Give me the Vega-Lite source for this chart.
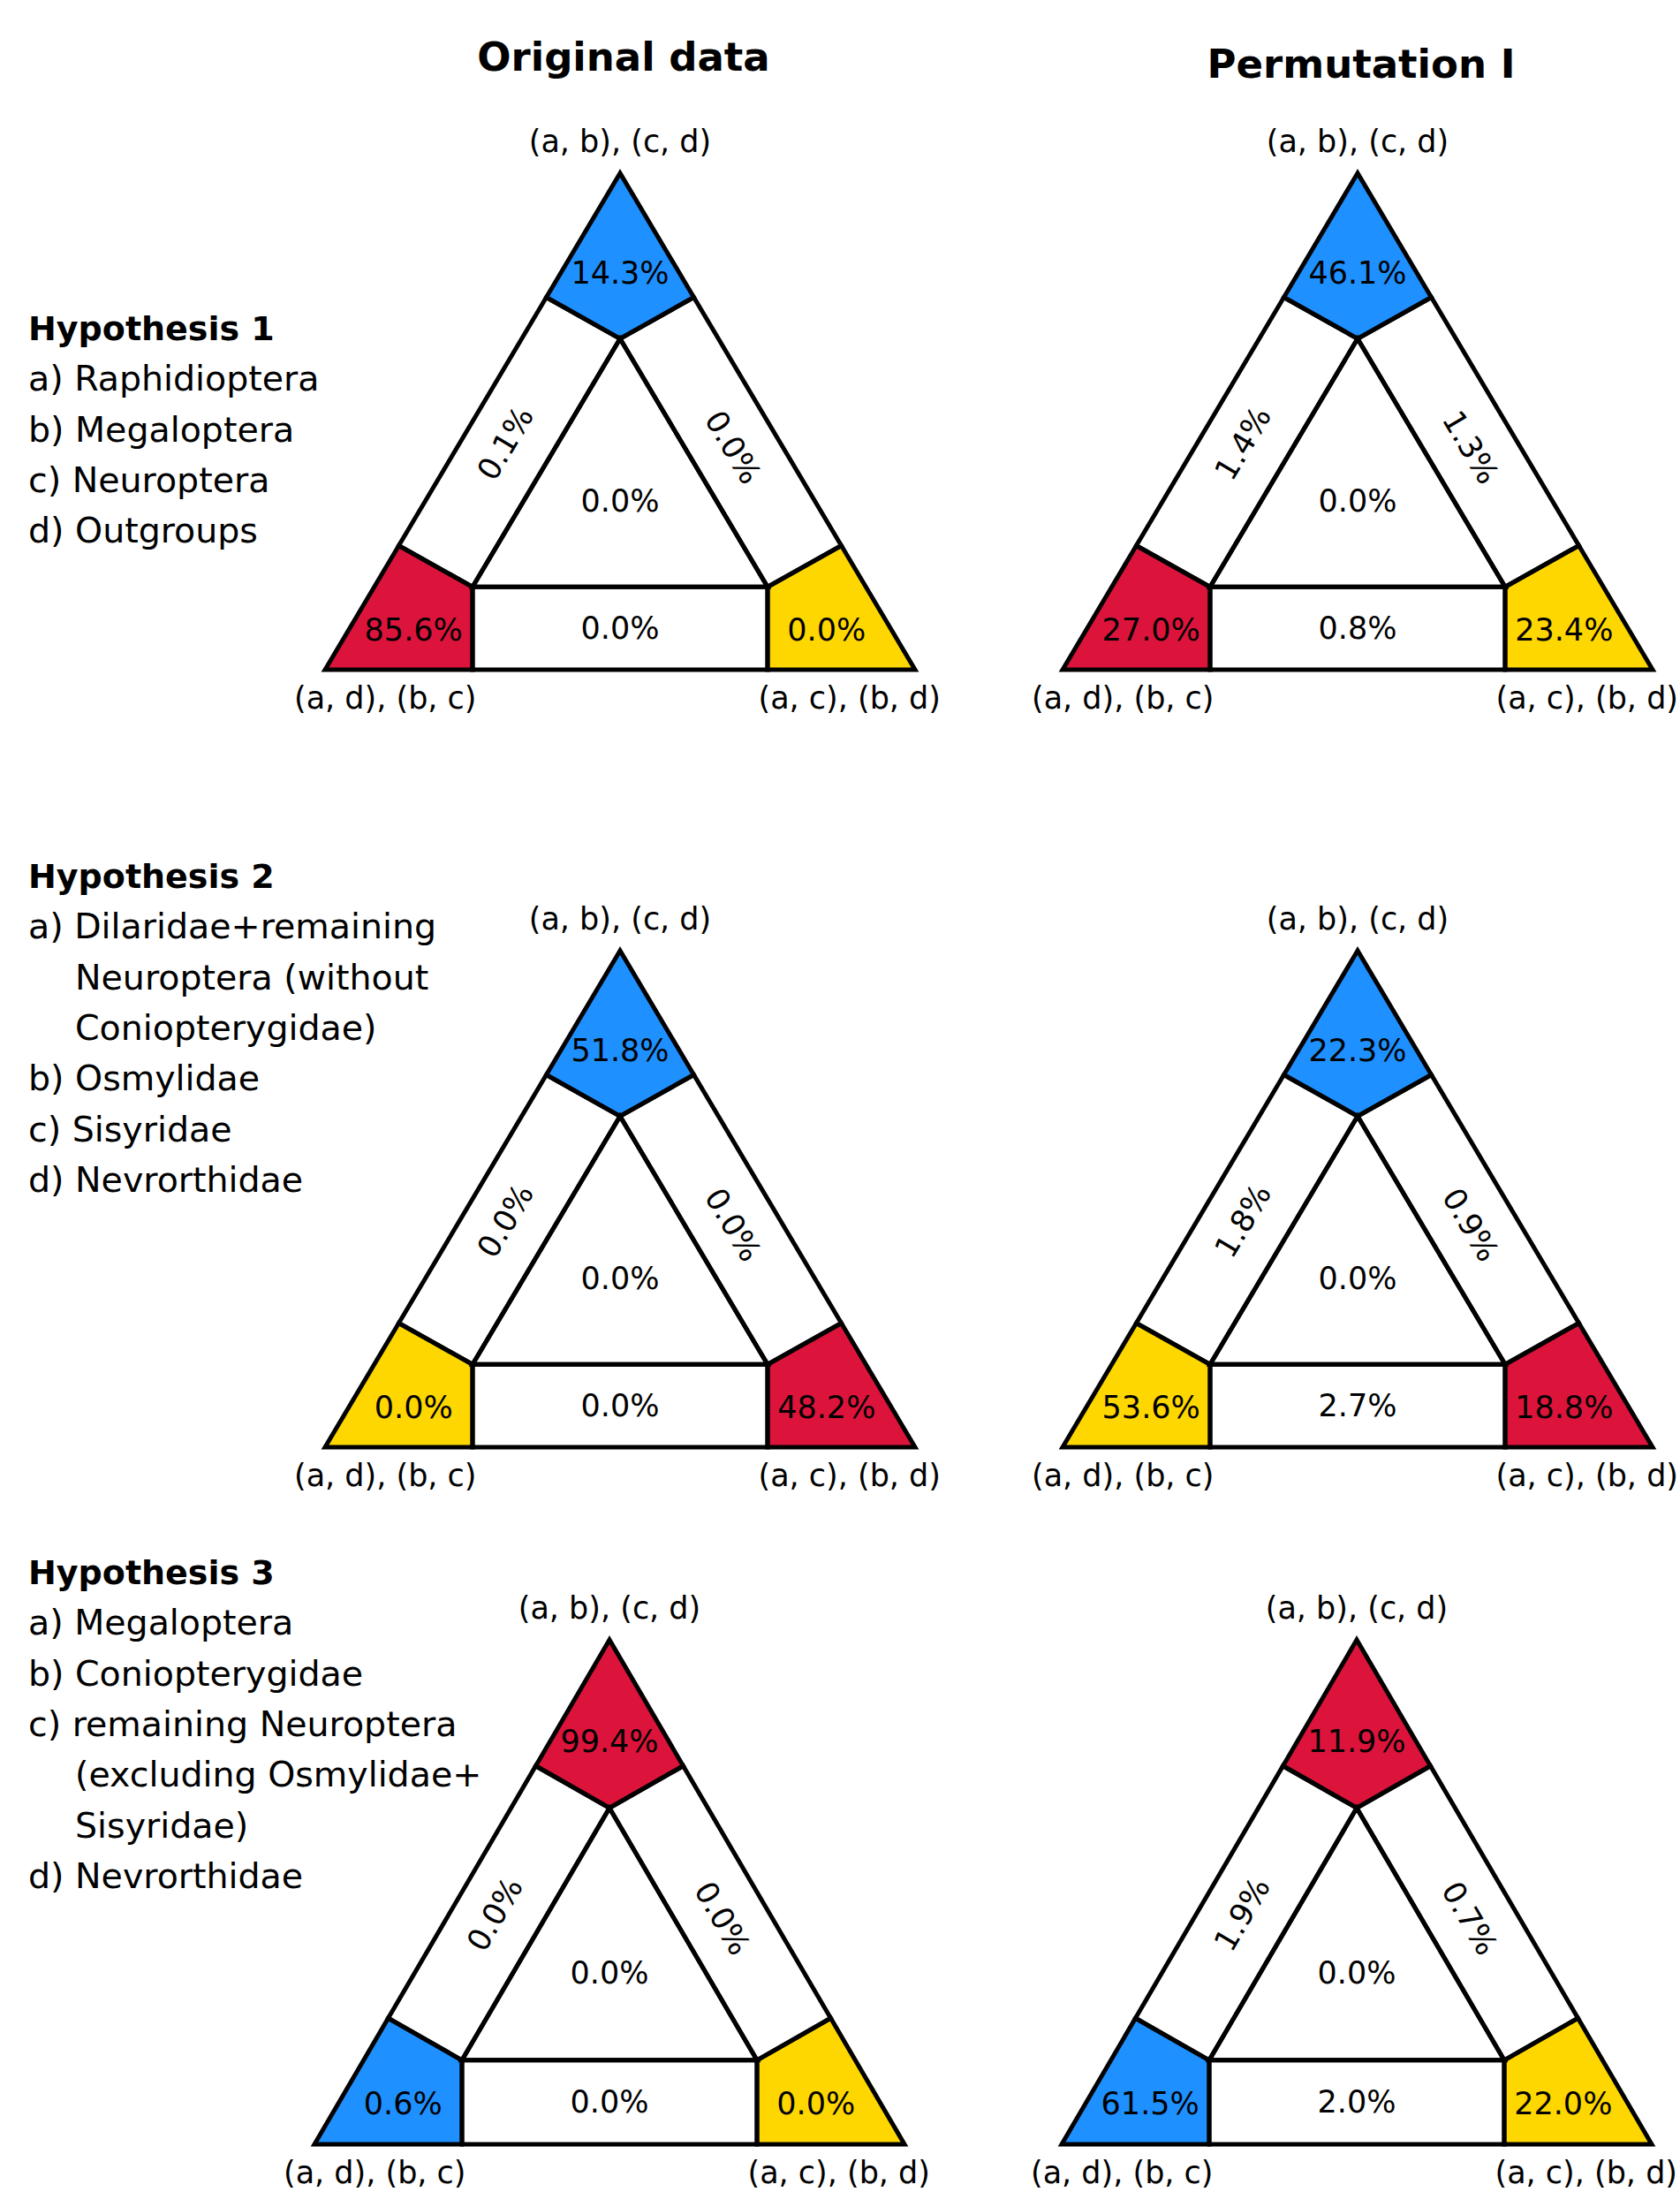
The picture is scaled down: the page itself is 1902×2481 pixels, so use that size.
{
"$schema": "https://vega.github.io/schema/vega-lite/v6.json",
"padding": 0,
"background": "white",
"spacing": 0,
"config": {"view": {"stroke": null}, "concat": {"spacing": 0}},
"datasets": {
"geometry": [
{"region": "top", "i": [0,1,2,3], "u": [0.5,0.375,0.5,0.625], "v": [1,0.75,0.666667,0.75], "lu": 0.5, "lv": 0.797},
{"region": "bl", "i": [0,1,2,3], "u": [0,0.125,0.25,0.25], "v": [0,0.25,0.166667,0], "lu": 0.15, "lv": 0.079},
{"region": "br", "i": [0,1,2,3], "u": [1,0.75,0.75,0.875], "v": [0,0,0.166667,0.25], "lu": 0.85, "lv": 0.079},
{"region": "left", "i": [0,1,2,3], "u": [0.125,0.375,0.5,0.25], "v": [0.25,0.75,0.666667,0.166667], "lu": 0.307, "lv": 0.455},
{"region": "right", "i": [0,1,2,3], "u": [0.625,0.875,0.75,0.5], "v": [0.75,0.25,0.166667,0.666667], "lu": 0.69, "lv": 0.447},
{"region": "bottom", "i": [0,1,2,3], "u": [0.25,0.75,0.75,0.25], "v": [0,0,0.166667,0.166667], "lu": 0.5, "lv": 0.082},
{"region": "center", "i": [0,1,2], "u": [0.25,0.75,0.5], "v": [0.166667,0.166667,0.666667], "lu": 0.5, "lv": 0.338}
],
"corners": [
{"corner": "top", "label": "(a, b), (c, d)", "u": 0.5, "v": 1},
{"corner": "bl", "label": "(a, d), (b, c)", "u": 0, "v": 0},
{"corner": "br", "label": "(a, c), (b, d)", "u": 1, "v": 0}
],
"cells": [
{"hyp": 1, "panel": "Original data", "region": "top", "share": 0.143, "group": "alternative A"},
{"hyp": 1, "panel": "Original data", "region": "bl", "share": 0.856, "group": "hypothesis"},
{"hyp": 1, "panel": "Original data", "region": "br", "share": 0.0, "group": "alternative B"},
{"hyp": 1, "panel": "Original data", "region": "left", "share": 0.001, "group": "none"},
{"hyp": 1, "panel": "Original data", "region": "right", "share": 0.0, "group": "none"},
{"hyp": 1, "panel": "Original data", "region": "bottom", "share": 0.0, "group": "none"},
{"hyp": 1, "panel": "Original data", "region": "center", "share": 0.0, "group": "none"},
{"hyp": 1, "panel": "Permutation I", "region": "top", "share": 0.461, "group": "alternative A"},
{"hyp": 1, "panel": "Permutation I", "region": "bl", "share": 0.270, "group": "hypothesis"},
{"hyp": 1, "panel": "Permutation I", "region": "br", "share": 0.234, "group": "alternative B"},
{"hyp": 1, "panel": "Permutation I", "region": "left", "share": 0.014, "group": "none"},
{"hyp": 1, "panel": "Permutation I", "region": "right", "share": 0.013, "group": "none"},
{"hyp": 1, "panel": "Permutation I", "region": "bottom", "share": 0.008, "group": "none"},
{"hyp": 1, "panel": "Permutation I", "region": "center", "share": 0.0, "group": "none"},
{"hyp": 2, "panel": "Original data", "region": "top", "share": 0.518, "group": "alternative A"},
{"hyp": 2, "panel": "Original data", "region": "bl", "share": 0.0, "group": "alternative B"},
{"hyp": 2, "panel": "Original data", "region": "br", "share": 0.482, "group": "hypothesis"},
{"hyp": 2, "panel": "Original data", "region": "left", "share": 0.0, "group": "none"},
{"hyp": 2, "panel": "Original data", "region": "right", "share": 0.0, "group": "none"},
{"hyp": 2, "panel": "Original data", "region": "bottom", "share": 0.0, "group": "none"},
{"hyp": 2, "panel": "Original data", "region": "center", "share": 0.0, "group": "none"},
{"hyp": 2, "panel": "Permutation I", "region": "top", "share": 0.223, "group": "alternative A"},
{"hyp": 2, "panel": "Permutation I", "region": "bl", "share": 0.536, "group": "alternative B"},
{"hyp": 2, "panel": "Permutation I", "region": "br", "share": 0.188, "group": "hypothesis"},
{"hyp": 2, "panel": "Permutation I", "region": "left", "share": 0.018, "group": "none"},
{"hyp": 2, "panel": "Permutation I", "region": "right", "share": 0.009, "group": "none"},
{"hyp": 2, "panel": "Permutation I", "region": "bottom", "share": 0.027, "group": "none"},
{"hyp": 2, "panel": "Permutation I", "region": "center", "share": 0.0, "group": "none"},
{"hyp": 3, "panel": "Original data", "region": "top", "share": 0.994, "group": "hypothesis"},
{"hyp": 3, "panel": "Original data", "region": "bl", "share": 0.006, "group": "alternative A"},
{"hyp": 3, "panel": "Original data", "region": "br", "share": 0.0, "group": "alternative B"},
{"hyp": 3, "panel": "Original data", "region": "left", "share": 0.0, "group": "none"},
{"hyp": 3, "panel": "Original data", "region": "right", "share": 0.0, "group": "none"},
{"hyp": 3, "panel": "Original data", "region": "bottom", "share": 0.0, "group": "none"},
{"hyp": 3, "panel": "Original data", "region": "center", "share": 0.0, "group": "none"},
{"hyp": 3, "panel": "Permutation I", "region": "top", "share": 0.119, "group": "hypothesis"},
{"hyp": 3, "panel": "Permutation I", "region": "bl", "share": 0.615, "group": "alternative A"},
{"hyp": 3, "panel": "Permutation I", "region": "br", "share": 0.220, "group": "alternative B"},
{"hyp": 3, "panel": "Permutation I", "region": "left", "share": 0.019, "group": "none"},
{"hyp": 3, "panel": "Permutation I", "region": "right", "share": 0.007, "group": "none"},
{"hyp": 3, "panel": "Permutation I", "region": "bottom", "share": 0.020, "group": "none"},
{"hyp": 3, "panel": "Permutation I", "region": "center", "share": 0.0, "group": "none"}
],
"hypotheses": [
{"hyp": 1, "line": 0, "indent": 0, "role": "title", "text": "Hypothesis 1"},
{"hyp": 1, "line": 1, "indent": 0, "role": "item", "text": "a) Raphidioptera"},
{"hyp": 1, "line": 2, "indent": 0, "role": "item", "text": "b) Megaloptera"},
{"hyp": 1, "line": 3, "indent": 0, "role": "item", "text": "c) Neuroptera"},
{"hyp": 1, "line": 4, "indent": 0, "role": "item", "text": "d) Outgroups"},
{"hyp": 2, "line": 0, "indent": 0, "role": "title", "text": "Hypothesis 2"},
{"hyp": 2, "line": 1, "indent": 0, "role": "item", "text": "a) Dilaridae+remaining"},
{"hyp": 2, "line": 2, "indent": 1, "role": "item", "text": "Neuroptera (without"},
{"hyp": 2, "line": 3, "indent": 1, "role": "item", "text": "Coniopterygidae)"},
{"hyp": 2, "line": 4, "indent": 0, "role": "item", "text": "b) Osmylidae"},
{"hyp": 2, "line": 5, "indent": 0, "role": "item", "text": "c) Sisyridae"},
{"hyp": 2, "line": 6, "indent": 0, "role": "item", "text": "d) Nevrorthidae"},
{"hyp": 3, "line": 0, "indent": 0, "role": "title", "text": "Hypothesis 3"},
{"hyp": 3, "line": 1, "indent": 0, "role": "item", "text": "a) Megaloptera"},
{"hyp": 3, "line": 2, "indent": 0, "role": "item", "text": "b) Coniopterygidae"},
{"hyp": 3, "line": 3, "indent": 0, "role": "item", "text": "c) remaining Neuroptera"},
{"hyp": 3, "line": 4, "indent": 1, "role": "item", "text": "(excluding Osmylidae+"},
{"hyp": 3, "line": 5, "indent": 1, "role": "item", "text": "Sisyridae)"},
{"hyp": 3, "line": 6, "indent": 0, "role": "item", "text": "d) Nevrorthidae"}
]
},
"vconcat": [
{"hconcat": [
{"width": 300, "height": 900, "data": {"name": "hypotheses"}, "transform": [{"filter": {"field": "hyp", "equal": 1}}],
 "encoding": {"x": {"field": "indent", "type": "quantitative", "scale": {"domain": [0,1], "range": [32,85], "nice": false, "zero": false}, "axis": null},
  "y": {"field": "line", "type": "quantitative", "scale": {"domain": [0,1], "range": [385,442.3], "nice": false, "zero": false}, "axis": null},
  "text": {"field": "text", "type": "nominal"}},
 "layer": [
  {"transform": [{"filter": {"field": "role", "equal": "title"}}], "mark": {"type": "text", "align": "left", "baseline": "alphabetic", "font": "DejaVu Sans", "fontWeight": "bold", "fontSize": 38, "color": "black"}},
  {"transform": [{"filter": {"field": "role", "equal": "item"}}], "mark": {"type": "text", "align": "left", "baseline": "alphabetic", "font": "DejaVu Sans", "fontSize": 39.5, "color": "black"}}
 ]},
{"width": 820, "height": 900,
 "encoding": {"x": {"field": "u", "type": "quantitative", "scale": {"domain": [-0.101796,1.125749], "nice": false, "zero": false}, "axis": null},
  "y": {"field": "v", "type": "quantitative", "scale": {"domain": [-0.252669,1.348754], "nice": false, "zero": false}, "axis": null}},
 "layer": [
  {"data": {"name": "cells"}, "transform": [{"filter": {"and": [{"field": "hyp", "equal": 1}, {"field": "panel", "equal": "Original data"}]}}, {"lookup": "region", "from": {"data": {"name": "geometry"}, "key": "region", "fields": ["i","u","v"]}}, {"flatten": ["i","u","v"]}],
   "mark": {"type": "line", "interpolate": "linear-closed", "strokeWidth": 0},
   "encoding": {"fill": {"field": "group", "type": "nominal", "scale": {"domain": ["hypothesis","alternative A","alternative B","none"], "range": ["#DC143C","#1E90FF","#FFD700","#FFFFFF"]}, "legend": null}, "detail": {"field": "region"}, "order": {"field": "i", "type": "quantitative"}}},
  {"data": {"name": "cells"}, "transform": [{"filter": {"and": [{"field": "hyp", "equal": 1}, {"field": "panel", "equal": "Original data"}]}}, {"lookup": "region", "from": {"data": {"name": "geometry"}, "key": "region", "fields": ["i","u","v"]}}, {"flatten": ["i","u","v"]}],
   "mark": {"type": "line", "interpolate": "linear-closed", "stroke": "black", "strokeWidth": 5, "strokeJoin": "miter"},
   "encoding": {"detail": {"field": "region"}, "order": {"field": "i", "type": "quantitative"}}},
  {"data": {"name": "cells"}, "transform": [{"filter": {"and": [{"field": "hyp", "equal": 1}, {"field": "panel", "equal": "Original data"}]}}, {"filter": {"field": "region", "oneOf": ["top","bl","br","bottom","center"]}}, {"lookup": "region", "from": {"data": {"name": "geometry"}, "key": "region", "fields": ["lu","lv"]}, "as": ["u","v"]}],
   "mark": {"type": "text", "font": "DejaVu Sans", "fontSize": 35, "align": "center", "baseline": "middle", "color": "black"},
   "encoding": {"text": {"field": "share", "type": "quantitative", "format": ".1%"}}},
  {"data": {"name": "cells"}, "transform": [{"filter": {"and": [{"field": "hyp", "equal": 1}, {"field": "panel", "equal": "Original data"}]}}, {"filter": {"field": "region", "equal": "left"}}, {"lookup": "region", "from": {"data": {"name": "geometry"}, "key": "region", "fields": ["lu","lv"]}, "as": ["u","v"]}],
   "mark": {"type": "text", "font": "DejaVu Sans", "fontSize": 35, "align": "center", "baseline": "middle", "color": "black", "angle": 300.7},
   "encoding": {"text": {"field": "share", "type": "quantitative", "format": ".1%"}}},
  {"data": {"name": "cells"}, "transform": [{"filter": {"and": [{"field": "hyp", "equal": 1}, {"field": "panel", "equal": "Original data"}]}}, {"filter": {"field": "region", "equal": "right"}}, {"lookup": "region", "from": {"data": {"name": "geometry"}, "key": "region", "fields": ["lu","lv"]}, "as": ["u","v"]}],
   "mark": {"type": "text", "font": "DejaVu Sans", "fontSize": 35, "align": "center", "baseline": "middle", "color": "black", "angle": 59.3},
   "encoding": {"text": {"field": "share", "type": "quantitative", "format": ".1%"}}},
  {"data": {"name": "corners"}, "transform": [{"filter": {"field": "corner", "equal": "top"}}], "mark": {"type": "text", "font": "DejaVu Sans", "fontSize": 35, "align": "center", "baseline": "alphabetic", "dy": -24, "color": "black"}, "encoding": {"text": {"field": "label"}}},
  {"data": {"name": "corners"}, "transform": [{"filter": {"field": "corner", "equal": "bl"}}], "mark": {"type": "text", "font": "DejaVu Sans", "fontSize": 35, "align": "left", "baseline": "alphabetic", "dx": -35, "dy": 44, "color": "black"}, "encoding": {"text": {"field": "label"}}},
  {"data": {"name": "corners"}, "transform": [{"filter": {"field": "corner", "equal": "br"}}], "mark": {"type": "text", "font": "DejaVu Sans", "fontSize": 35, "align": "right", "baseline": "alphabetic", "dx": 29, "dy": 44, "color": "black"}, "encoding": {"text": {"field": "label"}}},
  {"data": {"name": "corners"}, "transform": [{"filter": {"field": "corner", "equal": "top"}}], "mark": {"type": "text", "text": "Original data", "font": "DejaVu Sans", "fontWeight": "bold", "fontSize": 45, "align": "center", "baseline": "alphabetic", "dx": 4, "dy": -116, "color": "black"}}
 ]},
{"width": 782, "height": 900,
 "encoding": {"x": {"field": "u", "type": "quantitative", "scale": {"domain": [-0.124251,1.046407], "nice": false, "zero": false}, "axis": null},
  "y": {"field": "v", "type": "quantitative", "scale": {"domain": [-0.252669,1.348754], "nice": false, "zero": false}, "axis": null}},
 "layer": [
  {"data": {"name": "cells"}, "transform": [{"filter": {"and": [{"field": "hyp", "equal": 1}, {"field": "panel", "equal": "Permutation I"}]}}, {"lookup": "region", "from": {"data": {"name": "geometry"}, "key": "region", "fields": ["i","u","v"]}}, {"flatten": ["i","u","v"]}],
   "mark": {"type": "line", "interpolate": "linear-closed", "strokeWidth": 0},
   "encoding": {"fill": {"field": "group", "type": "nominal", "scale": {"domain": ["hypothesis","alternative A","alternative B","none"], "range": ["#DC143C","#1E90FF","#FFD700","#FFFFFF"]}, "legend": null}, "detail": {"field": "region"}, "order": {"field": "i", "type": "quantitative"}}},
  {"data": {"name": "cells"}, "transform": [{"filter": {"and": [{"field": "hyp", "equal": 1}, {"field": "panel", "equal": "Permutation I"}]}}, {"lookup": "region", "from": {"data": {"name": "geometry"}, "key": "region", "fields": ["i","u","v"]}}, {"flatten": ["i","u","v"]}],
   "mark": {"type": "line", "interpolate": "linear-closed", "stroke": "black", "strokeWidth": 5, "strokeJoin": "miter"},
   "encoding": {"detail": {"field": "region"}, "order": {"field": "i", "type": "quantitative"}}},
  {"data": {"name": "cells"}, "transform": [{"filter": {"and": [{"field": "hyp", "equal": 1}, {"field": "panel", "equal": "Permutation I"}]}}, {"filter": {"field": "region", "oneOf": ["top","bl","br","bottom","center"]}}, {"lookup": "region", "from": {"data": {"name": "geometry"}, "key": "region", "fields": ["lu","lv"]}, "as": ["u","v"]}],
   "mark": {"type": "text", "font": "DejaVu Sans", "fontSize": 35, "align": "center", "baseline": "middle", "color": "black"},
   "encoding": {"text": {"field": "share", "type": "quantitative", "format": ".1%"}}},
  {"data": {"name": "cells"}, "transform": [{"filter": {"and": [{"field": "hyp", "equal": 1}, {"field": "panel", "equal": "Permutation I"}]}}, {"filter": {"field": "region", "equal": "left"}}, {"lookup": "region", "from": {"data": {"name": "geometry"}, "key": "region", "fields": ["lu","lv"]}, "as": ["u","v"]}],
   "mark": {"type": "text", "font": "DejaVu Sans", "fontSize": 35, "align": "center", "baseline": "middle", "color": "black", "angle": 300.7},
   "encoding": {"text": {"field": "share", "type": "quantitative", "format": ".1%"}}},
  {"data": {"name": "cells"}, "transform": [{"filter": {"and": [{"field": "hyp", "equal": 1}, {"field": "panel", "equal": "Permutation I"}]}}, {"filter": {"field": "region", "equal": "right"}}, {"lookup": "region", "from": {"data": {"name": "geometry"}, "key": "region", "fields": ["lu","lv"]}, "as": ["u","v"]}],
   "mark": {"type": "text", "font": "DejaVu Sans", "fontSize": 35, "align": "center", "baseline": "middle", "color": "black", "angle": 59.3},
   "encoding": {"text": {"field": "share", "type": "quantitative", "format": ".1%"}}},
  {"data": {"name": "corners"}, "transform": [{"filter": {"field": "corner", "equal": "top"}}], "mark": {"type": "text", "font": "DejaVu Sans", "fontSize": 35, "align": "center", "baseline": "alphabetic", "dy": -24, "color": "black"}, "encoding": {"text": {"field": "label"}}},
  {"data": {"name": "corners"}, "transform": [{"filter": {"field": "corner", "equal": "bl"}}], "mark": {"type": "text", "font": "DejaVu Sans", "fontSize": 35, "align": "left", "baseline": "alphabetic", "dx": -35, "dy": 44, "color": "black"}, "encoding": {"text": {"field": "label"}}},
  {"data": {"name": "corners"}, "transform": [{"filter": {"field": "corner", "equal": "br"}}], "mark": {"type": "text", "font": "DejaVu Sans", "fontSize": 35, "align": "right", "baseline": "alphabetic", "dx": 29, "dy": 44, "color": "black"}, "encoding": {"text": {"field": "label"}}},
  {"data": {"name": "corners"}, "transform": [{"filter": {"field": "corner", "equal": "top"}}], "mark": {"type": "text", "text": "Permutation I", "font": "DejaVu Sans", "fontWeight": "bold", "fontSize": 45, "align": "center", "baseline": "alphabetic", "dx": 4, "dy": -108, "color": "black"}}
 ]}
], "spacing": 0, "bounds": "flush"},
{"hconcat": [
{"width": 300, "height": 820, "data": {"name": "hypotheses"}, "transform": [{"filter": {"field": "hyp", "equal": 2}}],
 "encoding": {"x": {"field": "indent", "type": "quantitative", "scale": {"domain": [0,1], "range": [32,85], "nice": false, "zero": false}, "axis": null},
  "y": {"field": "line", "type": "quantitative", "scale": {"domain": [0,1], "range": [105,162.3], "nice": false, "zero": false}, "axis": null},
  "text": {"field": "text", "type": "nominal"}},
 "layer": [
  {"transform": [{"filter": {"field": "role", "equal": "title"}}], "mark": {"type": "text", "align": "left", "baseline": "alphabetic", "font": "DejaVu Sans", "fontWeight": "bold", "fontSize": 38, "color": "black"}},
  {"transform": [{"filter": {"field": "role", "equal": "item"}}], "mark": {"type": "text", "align": "left", "baseline": "alphabetic", "font": "DejaVu Sans", "fontSize": 39.5, "color": "black"}}
 ]},
{"width": 820, "height": 820,
 "encoding": {"x": {"field": "u", "type": "quantitative", "scale": {"domain": [-0.101796,1.125749], "nice": false, "zero": false}, "axis": null},
  "y": {"field": "v", "type": "quantitative", "scale": {"domain": [-0.145907,1.313167], "nice": false, "zero": false}, "axis": null}},
 "layer": [
  {"data": {"name": "cells"}, "transform": [{"filter": {"and": [{"field": "hyp", "equal": 2}, {"field": "panel", "equal": "Original data"}]}}, {"lookup": "region", "from": {"data": {"name": "geometry"}, "key": "region", "fields": ["i","u","v"]}}, {"flatten": ["i","u","v"]}],
   "mark": {"type": "line", "interpolate": "linear-closed", "strokeWidth": 0},
   "encoding": {"fill": {"field": "group", "type": "nominal", "scale": {"domain": ["hypothesis","alternative A","alternative B","none"], "range": ["#DC143C","#1E90FF","#FFD700","#FFFFFF"]}, "legend": null}, "detail": {"field": "region"}, "order": {"field": "i", "type": "quantitative"}}},
  {"data": {"name": "cells"}, "transform": [{"filter": {"and": [{"field": "hyp", "equal": 2}, {"field": "panel", "equal": "Original data"}]}}, {"lookup": "region", "from": {"data": {"name": "geometry"}, "key": "region", "fields": ["i","u","v"]}}, {"flatten": ["i","u","v"]}],
   "mark": {"type": "line", "interpolate": "linear-closed", "stroke": "black", "strokeWidth": 5, "strokeJoin": "miter"},
   "encoding": {"detail": {"field": "region"}, "order": {"field": "i", "type": "quantitative"}}},
  {"data": {"name": "cells"}, "transform": [{"filter": {"and": [{"field": "hyp", "equal": 2}, {"field": "panel", "equal": "Original data"}]}}, {"filter": {"field": "region", "oneOf": ["top","bl","br","bottom","center"]}}, {"lookup": "region", "from": {"data": {"name": "geometry"}, "key": "region", "fields": ["lu","lv"]}, "as": ["u","v"]}],
   "mark": {"type": "text", "font": "DejaVu Sans", "fontSize": 35, "align": "center", "baseline": "middle", "color": "black"},
   "encoding": {"text": {"field": "share", "type": "quantitative", "format": ".1%"}}},
  {"data": {"name": "cells"}, "transform": [{"filter": {"and": [{"field": "hyp", "equal": 2}, {"field": "panel", "equal": "Original data"}]}}, {"filter": {"field": "region", "equal": "left"}}, {"lookup": "region", "from": {"data": {"name": "geometry"}, "key": "region", "fields": ["lu","lv"]}, "as": ["u","v"]}],
   "mark": {"type": "text", "font": "DejaVu Sans", "fontSize": 35, "align": "center", "baseline": "middle", "color": "black", "angle": 300.7},
   "encoding": {"text": {"field": "share", "type": "quantitative", "format": ".1%"}}},
  {"data": {"name": "cells"}, "transform": [{"filter": {"and": [{"field": "hyp", "equal": 2}, {"field": "panel", "equal": "Original data"}]}}, {"filter": {"field": "region", "equal": "right"}}, {"lookup": "region", "from": {"data": {"name": "geometry"}, "key": "region", "fields": ["lu","lv"]}, "as": ["u","v"]}],
   "mark": {"type": "text", "font": "DejaVu Sans", "fontSize": 35, "align": "center", "baseline": "middle", "color": "black", "angle": 59.3},
   "encoding": {"text": {"field": "share", "type": "quantitative", "format": ".1%"}}},
  {"data": {"name": "corners"}, "transform": [{"filter": {"field": "corner", "equal": "top"}}], "mark": {"type": "text", "font": "DejaVu Sans", "fontSize": 35, "align": "center", "baseline": "alphabetic", "dy": -24, "color": "black"}, "encoding": {"text": {"field": "label"}}},
  {"data": {"name": "corners"}, "transform": [{"filter": {"field": "corner", "equal": "bl"}}], "mark": {"type": "text", "font": "DejaVu Sans", "fontSize": 35, "align": "left", "baseline": "alphabetic", "dx": -35, "dy": 44, "color": "black"}, "encoding": {"text": {"field": "label"}}},
  {"data": {"name": "corners"}, "transform": [{"filter": {"field": "corner", "equal": "br"}}], "mark": {"type": "text", "font": "DejaVu Sans", "fontSize": 35, "align": "right", "baseline": "alphabetic", "dx": 29, "dy": 44, "color": "black"}, "encoding": {"text": {"field": "label"}}}
 ]},
{"width": 782, "height": 820,
 "encoding": {"x": {"field": "u", "type": "quantitative", "scale": {"domain": [-0.124251,1.046407], "nice": false, "zero": false}, "axis": null},
  "y": {"field": "v", "type": "quantitative", "scale": {"domain": [-0.145907,1.313167], "nice": false, "zero": false}, "axis": null}},
 "layer": [
  {"data": {"name": "cells"}, "transform": [{"filter": {"and": [{"field": "hyp", "equal": 2}, {"field": "panel", "equal": "Permutation I"}]}}, {"lookup": "region", "from": {"data": {"name": "geometry"}, "key": "region", "fields": ["i","u","v"]}}, {"flatten": ["i","u","v"]}],
   "mark": {"type": "line", "interpolate": "linear-closed", "strokeWidth": 0},
   "encoding": {"fill": {"field": "group", "type": "nominal", "scale": {"domain": ["hypothesis","alternative A","alternative B","none"], "range": ["#DC143C","#1E90FF","#FFD700","#FFFFFF"]}, "legend": null}, "detail": {"field": "region"}, "order": {"field": "i", "type": "quantitative"}}},
  {"data": {"name": "cells"}, "transform": [{"filter": {"and": [{"field": "hyp", "equal": 2}, {"field": "panel", "equal": "Permutation I"}]}}, {"lookup": "region", "from": {"data": {"name": "geometry"}, "key": "region", "fields": ["i","u","v"]}}, {"flatten": ["i","u","v"]}],
   "mark": {"type": "line", "interpolate": "linear-closed", "stroke": "black", "strokeWidth": 5, "strokeJoin": "miter"},
   "encoding": {"detail": {"field": "region"}, "order": {"field": "i", "type": "quantitative"}}},
  {"data": {"name": "cells"}, "transform": [{"filter": {"and": [{"field": "hyp", "equal": 2}, {"field": "panel", "equal": "Permutation I"}]}}, {"filter": {"field": "region", "oneOf": ["top","bl","br","bottom","center"]}}, {"lookup": "region", "from": {"data": {"name": "geometry"}, "key": "region", "fields": ["lu","lv"]}, "as": ["u","v"]}],
   "mark": {"type": "text", "font": "DejaVu Sans", "fontSize": 35, "align": "center", "baseline": "middle", "color": "black"},
   "encoding": {"text": {"field": "share", "type": "quantitative", "format": ".1%"}}},
  {"data": {"name": "cells"}, "transform": [{"filter": {"and": [{"field": "hyp", "equal": 2}, {"field": "panel", "equal": "Permutation I"}]}}, {"filter": {"field": "region", "equal": "left"}}, {"lookup": "region", "from": {"data": {"name": "geometry"}, "key": "region", "fields": ["lu","lv"]}, "as": ["u","v"]}],
   "mark": {"type": "text", "font": "DejaVu Sans", "fontSize": 35, "align": "center", "baseline": "middle", "color": "black", "angle": 300.7},
   "encoding": {"text": {"field": "share", "type": "quantitative", "format": ".1%"}}},
  {"data": {"name": "cells"}, "transform": [{"filter": {"and": [{"field": "hyp", "equal": 2}, {"field": "panel", "equal": "Permutation I"}]}}, {"filter": {"field": "region", "equal": "right"}}, {"lookup": "region", "from": {"data": {"name": "geometry"}, "key": "region", "fields": ["lu","lv"]}, "as": ["u","v"]}],
   "mark": {"type": "text", "font": "DejaVu Sans", "fontSize": 35, "align": "center", "baseline": "middle", "color": "black", "angle": 59.3},
   "encoding": {"text": {"field": "share", "type": "quantitative", "format": ".1%"}}},
  {"data": {"name": "corners"}, "transform": [{"filter": {"field": "corner", "equal": "top"}}], "mark": {"type": "text", "font": "DejaVu Sans", "fontSize": 35, "align": "center", "baseline": "alphabetic", "dy": -24, "color": "black"}, "encoding": {"text": {"field": "label"}}},
  {"data": {"name": "corners"}, "transform": [{"filter": {"field": "corner", "equal": "bl"}}], "mark": {"type": "text", "font": "DejaVu Sans", "fontSize": 35, "align": "left", "baseline": "alphabetic", "dx": -35, "dy": 44, "color": "black"}, "encoding": {"text": {"field": "label"}}},
  {"data": {"name": "corners"}, "transform": [{"filter": {"field": "corner", "equal": "br"}}], "mark": {"type": "text", "font": "DejaVu Sans", "fontSize": 35, "align": "right", "baseline": "alphabetic", "dx": 29, "dy": 44, "color": "black"}, "encoding": {"text": {"field": "label"}}}
 ]}
], "spacing": 0, "bounds": "flush"},
{"hconcat": [
{"width": 300, "height": 761, "data": {"name": "hypotheses"}, "transform": [{"filter": {"field": "hyp", "equal": 3}}],
 "encoding": {"x": {"field": "indent", "type": "quantitative", "scale": {"domain": [0,1], "range": [32,85], "nice": false, "zero": false}, "axis": null},
  "y": {"field": "line", "type": "quantitative", "scale": {"domain": [0,1], "range": [73,130.3], "nice": false, "zero": false}, "axis": null},
  "text": {"field": "text", "type": "nominal"}},
 "layer": [
  {"transform": [{"filter": {"field": "role", "equal": "title"}}], "mark": {"type": "text", "align": "left", "baseline": "alphabetic", "font": "DejaVu Sans", "fontWeight": "bold", "fontSize": 38, "color": "black"}},
  {"transform": [{"filter": {"field": "role", "equal": "item"}}], "mark": {"type": "text", "align": "left", "baseline": "alphabetic", "font": "DejaVu Sans", "fontSize": 39.5, "color": "black"}}
 ]},
{"width": 820, "height": 761,
 "encoding": {"x": {"field": "u", "type": "quantitative", "scale": {"domain": [-0.083832,1.143713], "nice": false, "zero": false}, "axis": null},
  "y": {"field": "v", "type": "quantitative", "scale": {"domain": [-0.094571,1.238179], "nice": false, "zero": false}, "axis": null}},
 "layer": [
  {"data": {"name": "cells"}, "transform": [{"filter": {"and": [{"field": "hyp", "equal": 3}, {"field": "panel", "equal": "Original data"}]}}, {"lookup": "region", "from": {"data": {"name": "geometry"}, "key": "region", "fields": ["i","u","v"]}}, {"flatten": ["i","u","v"]}],
   "mark": {"type": "line", "interpolate": "linear-closed", "strokeWidth": 0},
   "encoding": {"fill": {"field": "group", "type": "nominal", "scale": {"domain": ["hypothesis","alternative A","alternative B","none"], "range": ["#DC143C","#1E90FF","#FFD700","#FFFFFF"]}, "legend": null}, "detail": {"field": "region"}, "order": {"field": "i", "type": "quantitative"}}},
  {"data": {"name": "cells"}, "transform": [{"filter": {"and": [{"field": "hyp", "equal": 3}, {"field": "panel", "equal": "Original data"}]}}, {"lookup": "region", "from": {"data": {"name": "geometry"}, "key": "region", "fields": ["i","u","v"]}}, {"flatten": ["i","u","v"]}],
   "mark": {"type": "line", "interpolate": "linear-closed", "stroke": "black", "strokeWidth": 5, "strokeJoin": "miter"},
   "encoding": {"detail": {"field": "region"}, "order": {"field": "i", "type": "quantitative"}}},
  {"data": {"name": "cells"}, "transform": [{"filter": {"and": [{"field": "hyp", "equal": 3}, {"field": "panel", "equal": "Original data"}]}}, {"filter": {"field": "region", "oneOf": ["top","bl","br","bottom","center"]}}, {"lookup": "region", "from": {"data": {"name": "geometry"}, "key": "region", "fields": ["lu","lv"]}, "as": ["u","v"]}],
   "mark": {"type": "text", "font": "DejaVu Sans", "fontSize": 35, "align": "center", "baseline": "middle", "color": "black"},
   "encoding": {"text": {"field": "share", "type": "quantitative", "format": ".1%"}}},
  {"data": {"name": "cells"}, "transform": [{"filter": {"and": [{"field": "hyp", "equal": 3}, {"field": "panel", "equal": "Original data"}]}}, {"filter": {"field": "region", "equal": "left"}}, {"lookup": "region", "from": {"data": {"name": "geometry"}, "key": "region", "fields": ["lu","lv"]}, "as": ["u","v"]}],
   "mark": {"type": "text", "font": "DejaVu Sans", "fontSize": 35, "align": "center", "baseline": "middle", "color": "black", "angle": 300.3},
   "encoding": {"text": {"field": "share", "type": "quantitative", "format": ".1%"}}},
  {"data": {"name": "cells"}, "transform": [{"filter": {"and": [{"field": "hyp", "equal": 3}, {"field": "panel", "equal": "Original data"}]}}, {"filter": {"field": "region", "equal": "right"}}, {"lookup": "region", "from": {"data": {"name": "geometry"}, "key": "region", "fields": ["lu","lv"]}, "as": ["u","v"]}],
   "mark": {"type": "text", "font": "DejaVu Sans", "fontSize": 35, "align": "center", "baseline": "middle", "color": "black", "angle": 59.7},
   "encoding": {"text": {"field": "share", "type": "quantitative", "format": ".1%"}}},
  {"data": {"name": "corners"}, "transform": [{"filter": {"field": "corner", "equal": "top"}}], "mark": {"type": "text", "font": "DejaVu Sans", "fontSize": 35, "align": "center", "baseline": "alphabetic", "dy": -24, "color": "black"}, "encoding": {"text": {"field": "label"}}},
  {"data": {"name": "corners"}, "transform": [{"filter": {"field": "corner", "equal": "bl"}}], "mark": {"type": "text", "font": "DejaVu Sans", "fontSize": 35, "align": "left", "baseline": "alphabetic", "dx": -35, "dy": 44, "color": "black"}, "encoding": {"text": {"field": "label"}}},
  {"data": {"name": "corners"}, "transform": [{"filter": {"field": "corner", "equal": "br"}}], "mark": {"type": "text", "font": "DejaVu Sans", "fontSize": 35, "align": "right", "baseline": "alphabetic", "dx": 29, "dy": 44, "color": "black"}, "encoding": {"text": {"field": "label"}}}
 ]},
{"width": 782, "height": 761,
 "encoding": {"x": {"field": "u", "type": "quantitative", "scale": {"domain": [-0.122754,1.047904], "nice": false, "zero": false}, "axis": null},
  "y": {"field": "v", "type": "quantitative", "scale": {"domain": [-0.094571,1.238179], "nice": false, "zero": false}, "axis": null}},
 "layer": [
  {"data": {"name": "cells"}, "transform": [{"filter": {"and": [{"field": "hyp", "equal": 3}, {"field": "panel", "equal": "Permutation I"}]}}, {"lookup": "region", "from": {"data": {"name": "geometry"}, "key": "region", "fields": ["i","u","v"]}}, {"flatten": ["i","u","v"]}],
   "mark": {"type": "line", "interpolate": "linear-closed", "strokeWidth": 0},
   "encoding": {"fill": {"field": "group", "type": "nominal", "scale": {"domain": ["hypothesis","alternative A","alternative B","none"], "range": ["#DC143C","#1E90FF","#FFD700","#FFFFFF"]}, "legend": null}, "detail": {"field": "region"}, "order": {"field": "i", "type": "quantitative"}}},
  {"data": {"name": "cells"}, "transform": [{"filter": {"and": [{"field": "hyp", "equal": 3}, {"field": "panel", "equal": "Permutation I"}]}}, {"lookup": "region", "from": {"data": {"name": "geometry"}, "key": "region", "fields": ["i","u","v"]}}, {"flatten": ["i","u","v"]}],
   "mark": {"type": "line", "interpolate": "linear-closed", "stroke": "black", "strokeWidth": 5, "strokeJoin": "miter"},
   "encoding": {"detail": {"field": "region"}, "order": {"field": "i", "type": "quantitative"}}},
  {"data": {"name": "cells"}, "transform": [{"filter": {"and": [{"field": "hyp", "equal": 3}, {"field": "panel", "equal": "Permutation I"}]}}, {"filter": {"field": "region", "oneOf": ["top","bl","br","bottom","center"]}}, {"lookup": "region", "from": {"data": {"name": "geometry"}, "key": "region", "fields": ["lu","lv"]}, "as": ["u","v"]}],
   "mark": {"type": "text", "font": "DejaVu Sans", "fontSize": 35, "align": "center", "baseline": "middle", "color": "black"},
   "encoding": {"text": {"field": "share", "type": "quantitative", "format": ".1%"}}},
  {"data": {"name": "cells"}, "transform": [{"filter": {"and": [{"field": "hyp", "equal": 3}, {"field": "panel", "equal": "Permutation I"}]}}, {"filter": {"field": "region", "equal": "left"}}, {"lookup": "region", "from": {"data": {"name": "geometry"}, "key": "region", "fields": ["lu","lv"]}, "as": ["u","v"]}],
   "mark": {"type": "text", "font": "DejaVu Sans", "fontSize": 35, "align": "center", "baseline": "middle", "color": "black", "angle": 300.3},
   "encoding": {"text": {"field": "share", "type": "quantitative", "format": ".1%"}}},
  {"data": {"name": "cells"}, "transform": [{"filter": {"and": [{"field": "hyp", "equal": 3}, {"field": "panel", "equal": "Permutation I"}]}}, {"filter": {"field": "region", "equal": "right"}}, {"lookup": "region", "from": {"data": {"name": "geometry"}, "key": "region", "fields": ["lu","lv"]}, "as": ["u","v"]}],
   "mark": {"type": "text", "font": "DejaVu Sans", "fontSize": 35, "align": "center", "baseline": "middle", "color": "black", "angle": 59.7},
   "encoding": {"text": {"field": "share", "type": "quantitative", "format": ".1%"}}},
  {"data": {"name": "corners"}, "transform": [{"filter": {"field": "corner", "equal": "top"}}], "mark": {"type": "text", "font": "DejaVu Sans", "fontSize": 35, "align": "center", "baseline": "alphabetic", "dy": -24, "color": "black"}, "encoding": {"text": {"field": "label"}}},
  {"data": {"name": "corners"}, "transform": [{"filter": {"field": "corner", "equal": "bl"}}], "mark": {"type": "text", "font": "DejaVu Sans", "fontSize": 35, "align": "left", "baseline": "alphabetic", "dx": -35, "dy": 44, "color": "black"}, "encoding": {"text": {"field": "label"}}},
  {"data": {"name": "corners"}, "transform": [{"filter": {"field": "corner", "equal": "br"}}], "mark": {"type": "text", "font": "DejaVu Sans", "fontSize": 35, "align": "right", "baseline": "alphabetic", "dx": 29, "dy": 44, "color": "black"}, "encoding": {"text": {"field": "label"}}}
 ]}
], "spacing": 0, "bounds": "flush"}
]
}
